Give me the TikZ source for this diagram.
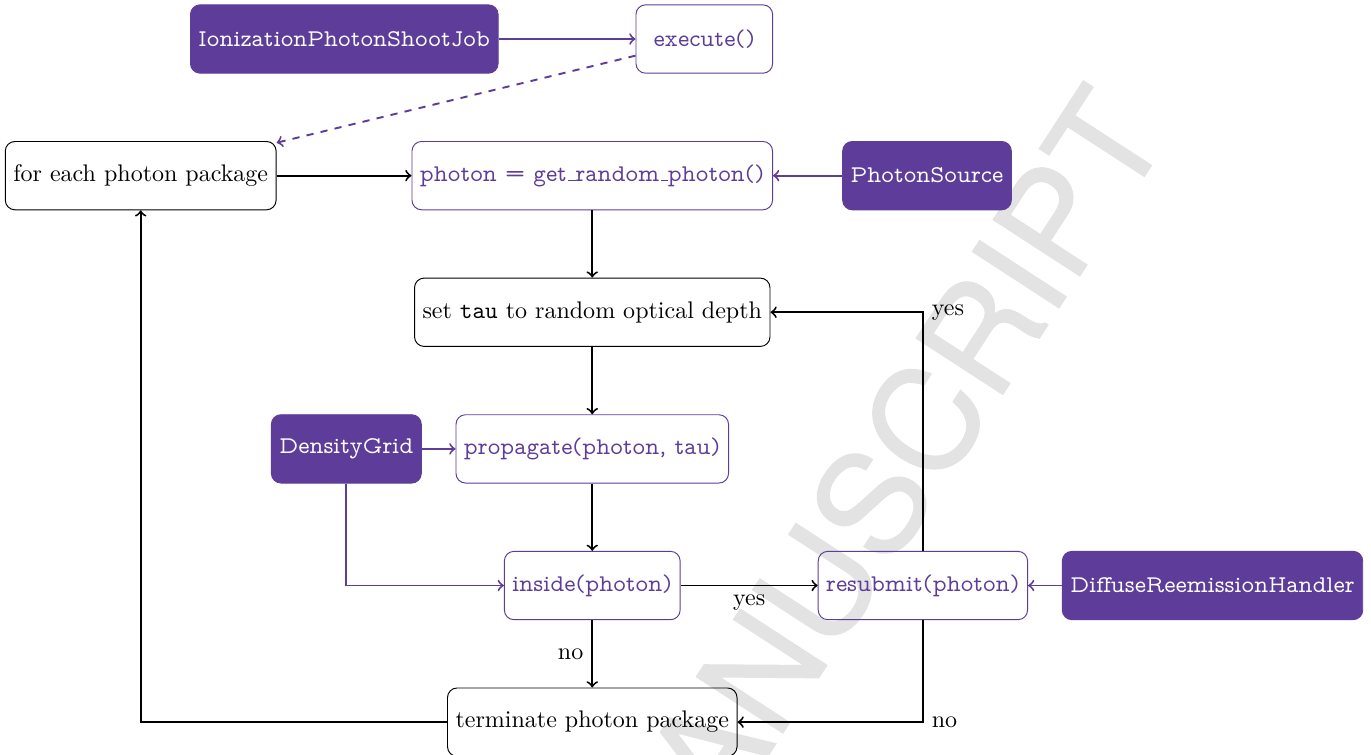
\documentclass[tikz,border=0pt]{standalone}
\usepackage{fontspec}
\newfontfamily\markfont[FakeBold = 0.8]{TeX Gyre Heros}
\definecolor{classpurple}{RGB}{94,60,153}
\newcommand{\lowbar}{\leavevmode\kern.06em\vbox{\hrule width .3em}}
\tikzset{
	box/.style = {draw, rounded corners, minimum height = 1cm, minimum width = 2cm, thin},
	task/.style = {box, black},
	call/.style = {box, draw = classpurple, text = classpurple, font = \fontfamily{lmvtt}\selectfont},
	class/.style = {box, fill = classpurple, draw = classpurple, text = white, font = \fontfamily{lmvtt}\selectfont},
	flow/.style = {->, thick},
	link/.style = {->, thick, classpurple}
}
\begin{document}
\begin{tikzpicture}
		\useasboundingbox (0, 0.571) rectangle (20.07, -10.48);
		\begin{scope}
		\clip (0, 0.571) rectangle (20.07, -10.48);
		\node[rotate = 57, text = black!11, font = \markfont\fontsize{59}{59}\selectfont] (watermark) at (12.78, -6.74) {MANUSCRIPT};
		\end{scope}
		\foreach \name/\x/\y/\txt in {job/5.04/0/IonizationPhotonShootJob, source/13.57/-2/PhotonSource, grid/5.07/-6/DensityGrid, reemission/17.75/-8/DiffuseReemissionHandler}{
			\node[class] (\name) at (\x, \y) {\txt};}
		\node[call] (execute) at (10.31, 0) {execute()};
		\node[task] (loop) at (2.06, -2) {for each photon package};
		\node[call] (random) at (8.67, -2) {photon = get\lowbar random\lowbar photon()};
		\node[task] (tau) at (8.67, -4) {set \texttt{tau} to random optical depth};
		\node[call] (propagate) at (8.67, -6) {propagate(photon, tau)};
		\node[call] (inside) at (8.67, -8) {inside(photon)};
		\node[call] (resubmit) at (13.51, -8) {resubmit(photon)};
		\node[task] (terminate) at (8.67, -10) {terminate photon package};
		\draw[link] (job) -- (execute);
		\draw[link, dashed] (execute) -- (loop);
		\draw[flow] (loop) -- (random);
		\draw[link] (source) -- (random);
		\draw[flow] (random) -- (tau);
		\draw[flow] (tau) -- (propagate);
		\draw[link] (grid) -- (propagate);
		\draw[link] (grid) |- (inside);
		\draw[flow] (propagate) -- (inside);
		\draw[flow] (inside) -- node[below] {yes} (resubmit);
		\draw[flow] (inside) -- node[left] {no} (terminate);
		\draw[link] (reemission) -- (resubmit);
		\draw[flow] (resubmit) |- node[right] {yes} (tau);
		\draw[flow] (resubmit) |- node[right] {no} (terminate);
		\draw[flow] (terminate) -| (loop);
		\end{tikzpicture}
\end{document}
